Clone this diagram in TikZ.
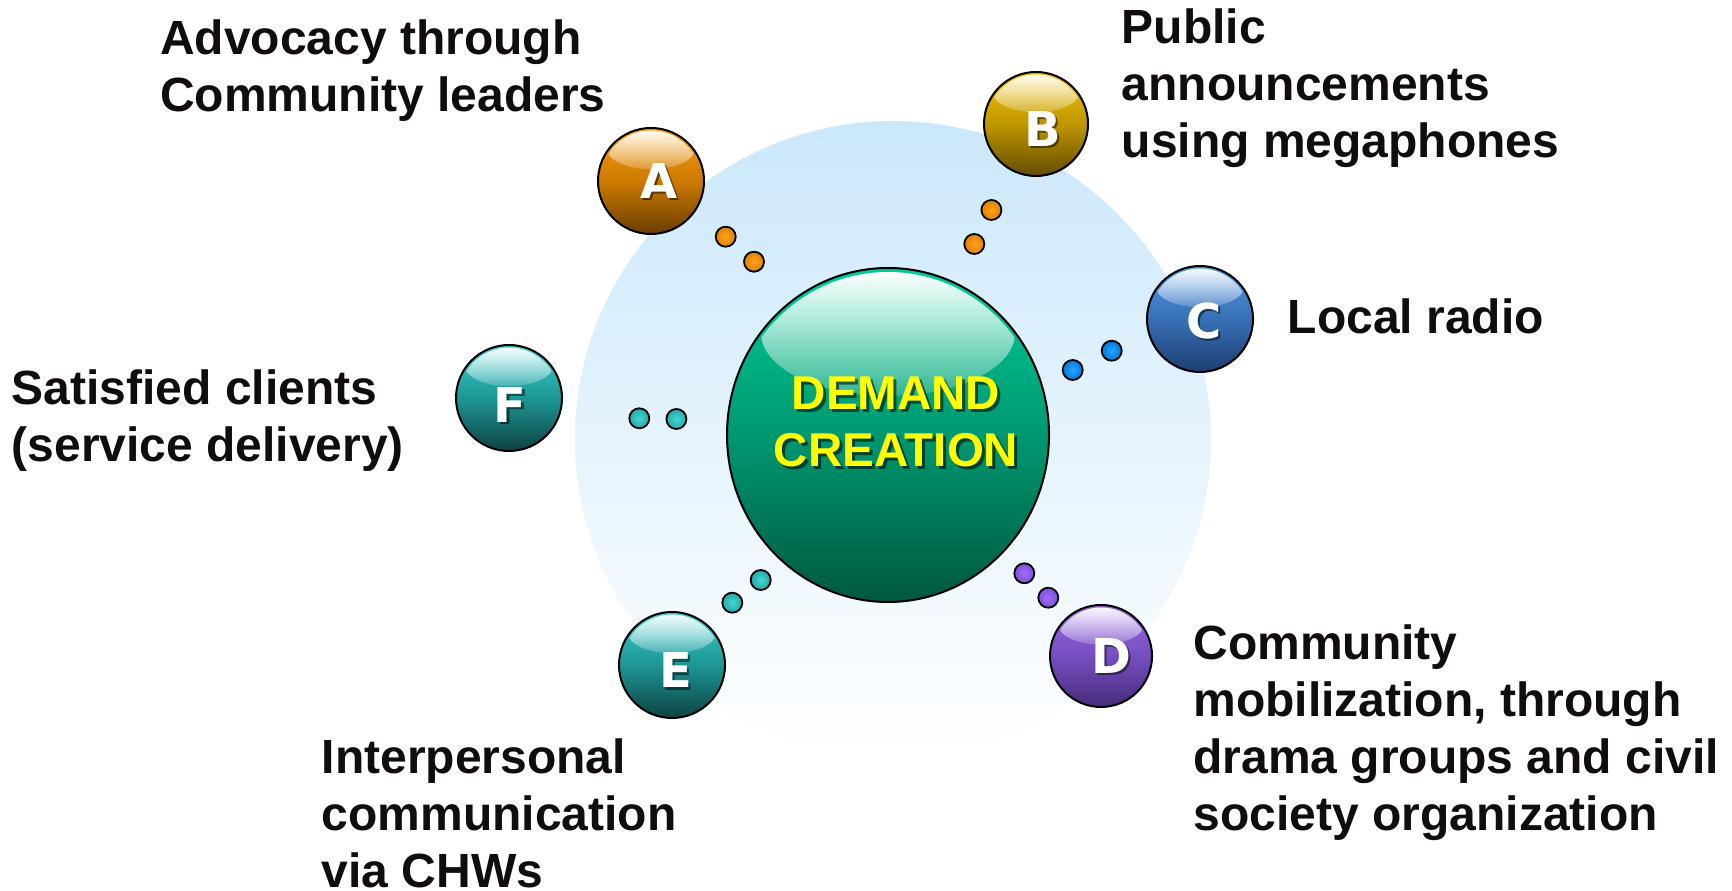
\documentclass[tikz,border=0pt]{standalone}
\usepackage{fontspec}
\setmainfont{Liberation Sans}
\newfontfamily\ballfont{DejaVu Sans}
\usetikzlibrary{calc,fadings,shapes.geometric}

% soft white gloss: opaque at the top, mostly clear at the bottom
\tikzfading[name=glossfade, top color=transparent!0, bottom color=transparent!82]

% colour sets for the spheres (top / middle / bottom)
\definecolor{orgtop}{RGB}{248,158,20}
\definecolor{orgmid}{RGB}{205,122,0}
\definecolor{orgbot}{RGB}{105,60,0}
\definecolor{goldtop}{RGB}{240,196,10}
\definecolor{goldmid}{RGB}{192,150,0}
\definecolor{goldbot}{RGB}{98,76,0}
\definecolor{blutop}{RGB}{80,150,228}
\definecolor{blumid}{RGB}{56,112,182}
\definecolor{blubot}{RGB}{28,62,112}
\definecolor{purtop}{RGB}{155,105,228}
\definecolor{purmid}{RGB}{118,78,192}
\definecolor{purbot}{RGB}{70,44,122}
\definecolor{teatop}{RGB}{60,205,205}
\definecolor{teamid}{RGB}{30,150,150}
\definecolor{teabot}{RGB}{14,66,66}
\definecolor{coretop}{RGB}{0,205,152}
\definecolor{coremid}{RGB}{0,152,112}
\definecolor{corebot}{RGB}{0,88,64}
\definecolor{halo}{RGB}{203,232,251}
% small connector dots: centre / rim
\definecolor{orgdotin}{RGB}{255,160,30}
\definecolor{orgdotout}{RGB}{225,130,0}
\definecolor{bludotin}{RGB}{40,165,255}
\definecolor{bludotout}{RGB}{0,120,215}
\definecolor{teadotin}{RGB}{70,215,210}
\definecolor{teadotout}{RGB}{35,170,168}
\definecolor{purdotin}{RGB}{160,110,255}
\definecolor{purdotout}{RGB}{125,80,215}
\definecolor{inktext}{RGB}{17,12,14}
\definecolor{ctitle}{RGB}{255,255,0}

\tikzset{
  ball/.style={circle, draw=black, line width=2pt, inner sep=0pt},
  dotnode/.style={circle, draw=black, line width=1.8pt, inner sep=0pt, minimum size=20},
  balletter/.style={font=\ballfont\fontsize{48}{48}\selectfont\bfseries, text=white, inner sep=0pt},
  letshadow/.style={font=\ballfont\fontsize{48}{48}\selectfont\bfseries, text=black, opacity=0.5, inner sep=0pt},
  blurb/.style={anchor=north west, inner sep=0pt, align=left,
    font=\fontsize{48}{57}\selectfont\bfseries, text=inktext},
  coretext/.style={inner sep=0pt, align=center, font=\fontsize{47.5}{56.5}\selectfont\bfseries},
}

% glossy lettered sphere: name, x, y, outer radius, colour set, letter, letter shift
\newcommand\glossball[7]{%
  \node[ball, minimum size={2*#4-2}, top color=#5top, bottom color=#5bot, middle color=#5mid] (#1) at (#2,#3) {};
  \begin{scope}
    \clip (#1.center) circle [radius={#4-3.5}];
    \fill[white, path fading=glossfade] ($(#1.center)+(0,{0.6*#4})$) ellipse [x radius={0.82*#4}, y radius={0.38*#4}];
  \end{scope}
  \node[letshadow] (#1-shadow) at ($(#1.center)+(#7)+(2.5,-2.5)$) {#6};
  \node[balletter] (#1-letter) at ($(#1.center)+(#7)$) {#6};
}

\begin{document}
\begin{tikzpicture}[x=1pt, y=1pt]
  \useasboundingbox (0,0) rectangle (1732,891);
  \fill[white] (0,0) rectangle (1732,891);

  % pale halo behind the hub
  \shade[top color=halo, bottom color=white] (893,452) circle [radius=318];

  % connector dots
  \node[dotnode, inner color=orgdotin, outer color=orgdotout] (a1) at (725.7,654.3) {};
  \node[dotnode, inner color=orgdotin, outer color=orgdotout] (a2) at (754,629.3) {};
  \node[dotnode, inner color=orgdotin, outer color=orgdotout] (b1) at (991.4,681) {};
  \node[dotnode, inner color=orgdotin, outer color=orgdotout] (b2) at (974.3,647) {};
  \node[dotnode, inner color=bludotin, outer color=bludotout] (c1) at (1111.7,540.3) {};
  \node[dotnode, inner color=bludotin, outer color=bludotout] (c2) at (1072.7,521) {};
  \node[dotnode, inner color=purdotin, outer color=purdotout] (d1) at (1024.3,317.7) {};
  \node[dotnode, inner color=purdotin, outer color=purdotout] (d2) at (1048.3,293.3) {};
  \node[dotnode, inner color=teadotin, outer color=teadotout] (e1) at (760.7,311) {};
  \node[dotnode, inner color=teadotin, outer color=teadotout] (e2) at (732.3,288.3) {};
  \node[dotnode, inner color=teadotin, outer color=teadotout] (f1) at (639.3,472.7) {};
  \node[dotnode, inner color=teadotin, outer color=teadotout] (f2) at (676.4,472) {};

  % hub sphere
  \node[ellipse, draw=black, line width=2pt, inner sep=0pt, minimum width=322, minimum height=334,
        top color=coretop, bottom color=corebot, middle color=coremid] (core) at (888,456) {};
  \begin{scope}
    \clip (core.center) ellipse [x radius=158, y radius=163];
    \fill[white, path fading=glossfade] ($(core.center)+(0,102)$) ellipse [x radius=127, y radius=63];
  \end{scope}
  \node[coretext, text=black, opacity=0.55] (core-shadow) at ($(core.center)+(11,10)$) {DEMAND\\CREATION};
  \node[coretext, text=ctitle] (core-title) at ($(core.center)+(8,13)$) {DEMAND\\CREATION};

  % lettered spheres
  \glossball{A}{651}{710}{54}{org}{A}{7.7,0}
  \glossball{B}{1036}{767}{53}{gold}{B}{6.6,-5}
  \glossball{C}{1200}{572}{54}{blu}{C}{4,-2}
  \glossball{D}{1101}{235}{52}{pur}{D}{10,0}
  \glossball{E}{672}{226}{54}{tea}{E}{3.5,-5.5}
  \glossball{F}{509}{493}{54}{tea}{F}{1,-7}

  % captions
  \node[blurb] (advocacy) at (160,871.4) {Advocacy through\\Community leaders};
  \node[blurb] (public) at (1121.5,882) {Public\\announcements\\using megaphones};
  \node[blurb] (radio) at (1287.5,592.5) {Local radio};
  \node[blurb] (clients) at (11.5,521.5) {Satisfied clients\\(service delivery)};
  \node[blurb] (ipc) at (321.6,152.4) {Interpersonal\\communication\\via CHWs};
  \node[blurb] (mobil) at (1193.4,266) {Community\\mobilization, through\\drama groups and civil\\society organization};
\end{tikzpicture}
\end{document}
